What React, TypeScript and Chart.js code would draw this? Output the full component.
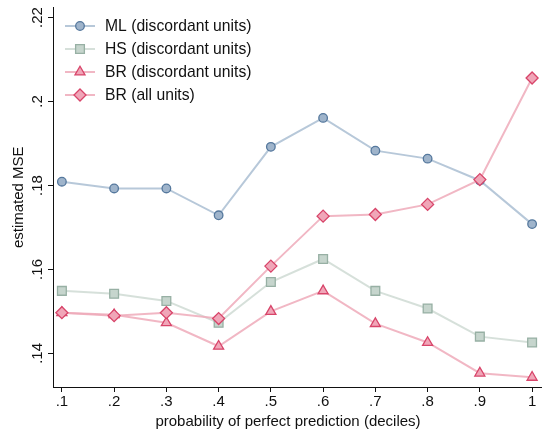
import React, { useEffect, useRef } from "react";
import { Chart, registerables } from "chart.js";

Chart.register(...registerables);

const deciles = [0.1, 0.2, 0.3, 0.4, 0.5, 0.6, 0.7, 0.8, 0.9, 1.0];
const xTickLabels = [".1", ".2", ".3", ".4", ".5", ".6", ".7", ".8", ".9", "1"];
const yTickValues = [0.14, 0.16, 0.18, 0.2, 0.22];
const yTickLabels = [".14", ".16", ".18", ".2", ".22"];

const mlDiscordant = [0.1809, 0.1793, 0.1793, 0.1729, 0.1892, 0.1961, 0.1883, 0.1864, 0.1812, 0.1708];
const hsDiscordant = [0.1549, 0.1542, 0.1525, 0.1473, 0.157, 0.1625, 0.1549, 0.1507, 0.144, 0.1426];
const brDiscordant = [0.1497, 0.1492, 0.1473, 0.1417, 0.15, 0.1549, 0.1471, 0.1426, 0.1353, 0.1343];
const brAll = [0.1497, 0.149, 0.1497, 0.1483, 0.1608, 0.1727, 0.1731, 0.1755, 0.1814, 0.2056];

const seriesNames = ["ML (discordant units)", "HS (discordant units)", "BR (discordant units)", "BR (all units)"];
const xTitle = "probability of perfect prediction (deciles)";
const yTitle = "estimated MSE";

const FONT = "'Liberation Sans', Arial, Helvetica, sans-serif";

function shapePath(ctx: CanvasRenderingContext2D, style: string, r: number, x: number, y: number) {
  ctx.beginPath();
  if (style === "circle") {
    ctx.arc(x, y, r, 0, Math.PI * 2);
  } else if (style === "rect") {
    const s = Math.SQRT1_2 * r;
    ctx.rect(x - s, y - s, 2 * s, 2 * s);
  } else if (style === "triangle") {
    const a = -Math.PI / 2;
    for (let k = 0; k < 3; k++) {
      const t = a + (k * 2 * Math.PI) / 3;
      const px = x + Math.cos(t) * r;
      const py = y + Math.sin(t) * r;
      k === 0 ? ctx.moveTo(px, py) : ctx.lineTo(px, py);
    }
  } else if (style === "rectRot") {
    ctx.moveTo(x, y - r);
    ctx.lineTo(x + r, y);
    ctx.lineTo(x, y + r);
    ctx.lineTo(x - r, y);
  }
  ctx.closePath();
}

const customPlugin = {
  id: "stataDecor",
  afterDraw(chart: any) {
    const ctx = chart.ctx;
    const ds = chart.data.datasets;
    ctx.save();
    const ys = chart.scales.y;
    ctx.fillStyle = "#111";
    ctx.font = `15px ${FONT}`;
    ctx.textAlign = "center";
    ctx.textBaseline = "middle";
    yTickValues.forEach((v, i) => {
      const py = ys.getPixelForValue(v);
      ctx.save();
      ctx.translate(38, py);
      ctx.rotate(-Math.PI / 2);
      ctx.fillText(yTickLabels[i], 0, 0);
      ctx.restore();
    });
    ctx.fillText(xTitle, 288, 422);
    const x0 = 65;
    const x1 = 95;
    const textX = 105;
    const rows = [26, 49, 72, 95];
    for (let i = 0; i < ds.length; i++) {
      const d = ds[i];
      const y = rows[i];
      ctx.strokeStyle = d.borderColor;
      ctx.lineWidth = d.borderWidth;
      ctx.beginPath();
      ctx.moveTo(x0, y);
      ctx.lineTo(x1, y);
      ctx.stroke();
      shapePath(ctx, d.pointStyle, d.pointRadius, (x0 + x1) / 2, y);
      ctx.fillStyle = d.pointBackgroundColor;
      ctx.fill();
      ctx.strokeStyle = d.pointBorderColor;
      ctx.lineWidth = d.pointBorderWidth;
      ctx.stroke();
      ctx.fillStyle = "#111";
      ctx.font = `15.7px ${FONT}`;
      ctx.textBaseline = "middle";
      ctx.textAlign = "left";
      ctx.fillText(d.label, textX, y + 1);
    }
    ctx.restore();
  },
};

export default function App() {
  const ref = useRef<HTMLCanvasElement | null>(null);
  useEffect(() => {
    document.body.style.margin = "0";
    const canvas = ref.current!;
    const mk = (name: string, data: number[], line: string, fill: string, border: string, style: string, r: number, order: number) => ({
      label: name,
      data: deciles.map((x, i) => ({ x, y: data[i] })),
      borderColor: line,
      borderWidth: 2,
      pointBackgroundColor: fill,
      pointBorderColor: border,
      pointBorderWidth: 1.3,
      pointStyle: style,
      pointRadius: r,
      tension: 0,
      order,
    });
    const chart = new Chart(canvas, {
      type: "line",
      data: {
        datasets: [
          mk(seriesNames[0], mlDiscordant, "rgba(170,190,210,0.85)", "#9fb4cb", "#55789d", "circle", 4.3, 4),
          mk(seriesNames[1], hsDiscordant, "rgba(212,222,216,0.95)", "#c6d5cd", "#97b0a4", "rect", 6.2, 3),
          mk(seriesNames[2], brDiscordant, "rgba(238,170,186,0.85)", "#f0a6b8", "#d8456a", "triangle", 5.8, 2),
          mk(seriesNames[3], brAll, "rgba(238,170,186,0.85)", "#f0a6b8", "#d8456a", "rectRot", 6, 1),
        ] as any,
      },
      options: {
        animation: false,
        responsive: false,
        maintainAspectRatio: false,
        layout: { padding: { top: 5, right: 0, left: 10, bottom: 0 } },
        plugins: { legend: { display: false }, tooltip: { enabled: false } },
        scales: {
          x: {
            type: "linear",
            min: 0.083,
            max: 1.018,
            afterBuildTicks: (s: any) => {
              s.ticks = deciles.map((v) => ({ value: v }));
            },
            afterFit: (s: any) => {
              s.height = 52;
            },
            ticks: {
              callback: (v: any) => {
                const i = deciles.findIndex((d) => Math.abs(d - v) < 1e-6);
                return i >= 0 ? xTickLabels[i] : "";
              },
              color: "#111",
              font: { size: 15, family: FONT },
              padding: 1,
              maxRotation: 0,
              autoSkip: false,
            },
            grid: { display: true, drawOnChartArea: false, drawTicks: true, tickLength: 5, color: "#111", lineWidth: 1 },
            border: { display: true, color: "#111", width: 1 },
            title: { display: false },
          },
          y: {
            type: "linear",
            min: 0.132,
            max: 0.2224,
            afterBuildTicks: (s: any) => {
              s.ticks = yTickValues.map((v) => ({ value: v }));
            },
            afterFit: (s: any) => {
              s.width = 43;
            },
            ticks: { display: false },
            grid: { display: true, drawOnChartArea: false, drawTicks: true, tickLength: 5, color: "#111", lineWidth: 1 },
            border: { display: true, color: "#111", width: 1 },
            title: {
              display: true,
              text: yTitle,
              color: "#111",
              font: { size: 15, family: FONT },
              padding: { top: 0, bottom: 0 },
            },
          },
        },
      },
      plugins: [customPlugin],
    });
    return () => chart.destroy();
  }, []);
  return (
    <div style={{ position: "fixed", left: 0, top: 0, width: 549, height: 439, background: "#fff" }}>
      <canvas ref={ref} width={549} height={439} style={{ width: 549, height: 439 }} />
    </div>
  );
}
